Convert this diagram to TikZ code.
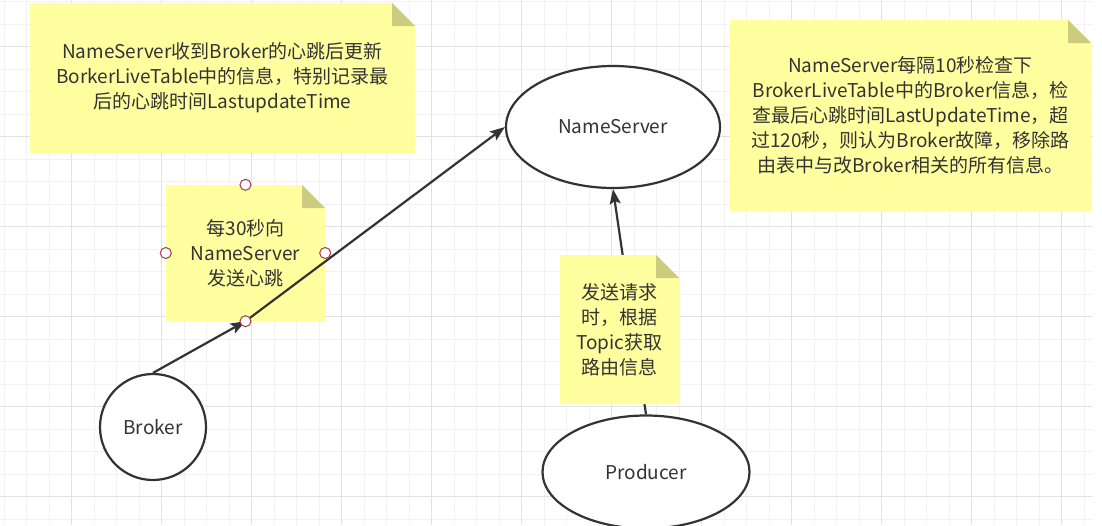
\documentclass[tikz,border=0pt]{standalone}
\usepackage{fontspec}
\setmainfont{Noto Sans CJK SC}
\usetikzlibrary{shapes.geometric}
\usetikzlibrary{arrows.meta}

\definecolor{notebg}{RGB}{255,255,160}
\definecolor{notecorner}{RGB}{204,204,128}
\definecolor{gridlight}{RGB}{242,242,242}
\definecolor{griddark}{RGB}{226,226,226}
\definecolor{inktext}{RGB}{51,51,51}
\definecolor{handlered}{RGB}{170,70,80}

% sticky note: name, left, top, right, bottom, text
\newcommand{\stickynote}[6]{%
  \fill[notebg] (#2,#3) -- (#4-23,#3) -- (#4,#3+23) -- (#4,#5) -- (#2,#5) -- cycle;
  \fill[notecorner] (#4-23,#3) -- (#4-23,#3+23) -- (#4,#3+23) -- cycle;
  \node[notetext, minimum width=#4pt-#2pt, minimum height=#5pt-#3pt]
       (#1) at ({(#2+#4)/2},{(#3+#5)/2}) {#6};
}

\begin{document}
\begin{tikzpicture}[x=1pt, y=-1pt,
  every node/.style={font=\fontsize{19}{25}\selectfont, text=inktext},
  notetext/.style={rectangle, inner sep=0pt, align=center},
  server/.style={ellipse, draw=inktext, line width=2.2pt, fill=white},
  flow/.style={draw=inktext, line width=2.2pt,
               -{Stealth[length=15pt, width=11pt, inset=3pt]}},
  handle/.style={circle, draw=handlered, line width=1.1pt, fill=white,
                 minimum size=11pt, inner sep=0pt}]

  \useasboundingbox (0,0) rectangle (1102,525);
  \fill[white] (0,0) rectangle (1102,525);

  % background grid
  \foreach \k in {0,...,48}
    \draw[gridlight, line width=1pt] ({4.2+22.5*\k},0) -- ({4.2+22.5*\k},525);
  \foreach \k in {0,...,23}
    \draw[gridlight, line width=1pt] (0,{1.7+22.5*\k}) -- (1093,{1.7+22.5*\k});
  \foreach \k in {0,...,11}
    \draw[griddark, line width=1pt] ({71.7+90*\k},0) -- ({71.7+90*\k},525);
  \foreach \k in {0,...,5}
    \draw[griddark, line width=1pt] (0,{46.7+90*\k}) -- (1093,{46.7+90*\k});

  % servers
  \node[server, minimum width=214pt, minimum height=122pt] (nameserver)
        at (613,127) {NameServer};
  \node[server, circle, minimum size=106pt] (broker) at (153,427) {Broker};
  \node[server, minimum width=207pt, minimum height=113pt] (producer)
        at (646,472) {Producer};

  % notes
  \stickynote{note1}{30}{3}{415}{153}{NameServer收到Broker的心跳后更新\\
    BorkerLiveTable中的信息，特别记录最\\后的心跳时间LastupdateTime}
  \stickynote{note2}{730}{20}{1091}{211}{NameServer每隔10秒检查下\\
    BrokerLiveTable中的Broker信息，检\\查最后心跳时间LastUpdateTime，超\\
    过120秒，则认为Broker故障，移除路\\由表中与改Broker相关的所有信息。}
  \stickynote{note3}{166}{185}{325}{321}{每30秒向\\NameServer\\发送心跳}

  % producer asks the name server (runs behind its note)
  \draw[flow] (producer.north) -- (nameserver.south);
  \stickynote{note4}{560}{255}{679}{404}{发送请求\\时，根据\\Topic获取\\路由信息}

  % heartbeat
  \draw[flow] (broker.north) -- (note3.south);
  \draw[flow] (note3.south) -- (nameserver.west);

  % connection points of the selected note
  \node[handle] (h1) at (note3.north) {};
  \node[handle] (h2) at (note3.west) {};
  \node[handle] (h3) at (note3.east) {};
  \node[handle] (h4) at (note3.south) {};

\end{tikzpicture}
\end{document}
